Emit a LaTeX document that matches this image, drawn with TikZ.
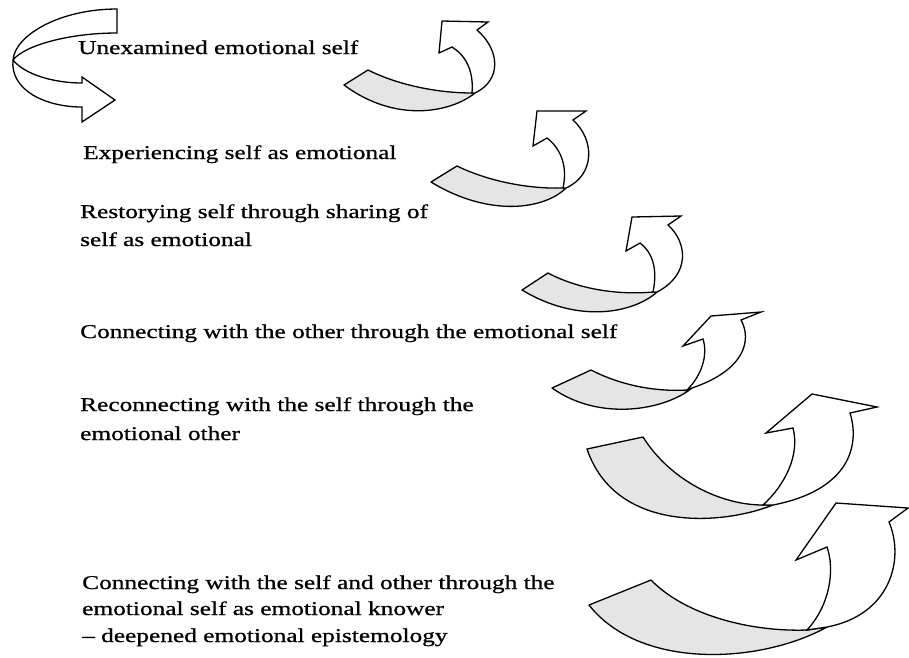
\documentclass[tikz,border=0pt]{standalone}
\usepackage{fontspec}
\setmainfont{Liberation Serif}[FakeStretch=1.3,FakeBold=0.8]
\begin{document}
\begin{tikzpicture}[x=1pt,y=-1pt,
  tailpart/.style={draw=black, line width=1.3pt, fill=gray!20, line join=round},
  shaftpart/.style={draw=black, line width=1.3pt, fill=white, line join=miter},
  lbl/.style={anchor=base west, inner sep=0pt, font=\fontsize{19.5}{22}\selectfont}]
\useasboundingbox (0,0) rectangle (909,657);
% first U-turn arrow
\path[shaftpart] (117,9) -- (117,33) .. controls (70,33) and (25,45) .. (13,60)
  .. controls (25,75) and (55,83) .. (82,83) -- (82,77) -- (115,100) -- (82,122) -- (82,107)
  .. controls (45,107) and (10,90) .. (13,60) .. controls (15,35) and (60,9) .. (117,9) -- cycle;
% arrow 1
\path[tailpart] (344,85) -- (368,70) .. controls (400,86) and (440,93) .. (472,93)
  -- (475,93) .. controls (450,113) and (395,123) .. (344,85) -- cycle;
\path[shaftpart] (472,93) .. controls (474,70) and (465,55) .. (452,47)
  -- (439,53) -- (442,21) -- (488,22) -- (477,30)
  .. controls (500,50) and (502,80) .. (475,93) -- cycle;
% arrow 2
\path[tailpart] (431,182) -- (457,166) .. controls (490,182) and (530,189) .. (563,188)
  -- (566,188) .. controls (545,209) and (490,218) .. (431,182) -- cycle;
\path[shaftpart] (563,188) .. controls (568,165) and (560,148) .. (547,138)
  -- (533,146) -- (537,111) -- (586,111) -- (573,120)
  .. controls (595,140) and (595,175) .. (566,188) -- cycle;
% arrow 3
\path[tailpart] (522,290) -- (548,273) .. controls (580,290) and (620,295) .. (653,292)
  -- (657,292) .. controls (635,312) and (580,325) .. (522,290) -- cycle;
\path[shaftpart] (653,292) .. controls (658,268) and (652,252) .. (640,243)
  -- (626,251) -- (632,217) -- (681,216) -- (668,225)
  .. controls (688,243) and (690,275) .. (657,292) -- cycle;
% arrow 4
\path[tailpart] (552,388) -- (591,370) .. controls (620,385) and (655,392) .. (687,390)
  -- (692,388) .. controls (665,410) and (600,422) .. (552,388) -- cycle;
\path[shaftpart] (687,390) .. controls (702,375) and (708,355) .. (703,339)
  -- (683,346) -- (711,316) -- (761,312) -- (741,320)
  .. controls (752,340) and (745,370) .. (692,388) -- cycle;
% arrow 5
\path[tailpart] (587,449) -- (643,437) .. controls (670,480) and (720,505) .. (763,505)
  -- (773,505) .. controls (720,526) and (615,532) .. (587,449) -- cycle;
\path[shaftpart] (763,505) .. controls (785,485) and (800,455) .. (793,428)
  -- (766,433) -- (812,394) -- (877,407) -- (850,413)
  .. controls (860,445) and (850,490) .. (773,505) -- cycle;
% arrow 6
\path[tailpart] (589,605) -- (651,580) .. controls (685,615) and (750,632) .. (807,630)
  -- (827,627) .. controls (760,664) and (640,670) .. (589,605) -- cycle;
\path[shaftpart] (807,630) .. controls (830,605) and (835,570) .. (827,547)
  -- (796,560) -- (836,503) -- (908,508) -- (889,522)
  .. controls (905,560) and (890,615) .. (827,627) -- cycle;
% labels
\node[lbl] (t1) at (78,54) {Unexamined emotional self};
\node[lbl] (t2) at (83,159) {Experiencing self as emotional};
\node[lbl] (t3a) at (80,218) {Restorying self through sharing of};
\node[lbl] (t3b) at (80,246) {self as emotional};
\node[lbl] (t4) at (80,338) {Connecting with the other through the emotional self};
\node[lbl] (t5a) at (80,411) {Reconnecting with the self through the};
\node[lbl] (t5b) at (80,440) {emotional other};
\node[lbl] (t6a) at (82,589) {Connecting with the self and other through the};
\node[lbl] (t6b) at (82,615) {emotional self as emotional knower};
\node[lbl] (t6c) at (82,642) {-- deepened emotional epistemology};
\end{tikzpicture}
\end{document}
